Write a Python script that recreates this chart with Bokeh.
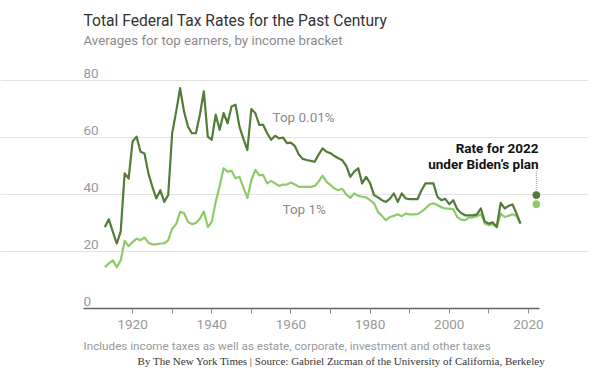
from bokeh.plotting import figure
from bokeh.models import Range1d, FixedTicker, Label, ColumnDataSource
from bokeh.embed import file_html
from bokeh.resources import INLINE

# ---------------- data ----------------
years = list(range(1913, 2019))
top_001 = [
    28.6, 31.3, 27.0, 22.8, 27.0, 47.4, 45.6, 58.6, 60.3, 55.0,   # 1913-1922
    54.4, 47.4, 42.7, 38.6, 41.5, 37.4, 39.8, 61.5, 69.0, 77.3,   # 1923-1932
    69.1, 63.8, 61.5, 61.5, 68.0, 76.2, 60.3, 59.2, 68.0, 62.7,   # 1933-1942
    68.6, 65.0, 70.9, 71.5, 63.8, 59.5, 55.6, 70.0, 68.6, 64.4,   # 1943-1952
    64.4, 61.5, 59.2, 60.6, 59.7, 60.0, 58.0, 58.2, 57.0, 54.0,   # 1953-1962
    52.5, 52.1, 51.8, 51.5, 54.0, 56.2, 55.0, 54.5, 53.5, 52.7,   # 1963-1972
    52.0, 50.0, 46.2, 48.0, 49.2, 43.9, 46.2, 44.0, 39.8, 39.0,   # 1973-1982
    38.0, 37.4, 38.5, 40.4, 37.4, 40.4, 38.6, 38.4, 38.4, 38.4,   # 1983-1992
    41.5, 43.9, 43.9, 43.9, 39.2, 38.0, 38.5, 36.6, 38.0, 34.9,   # 1993-2002
    33.5, 32.7, 32.7, 32.7, 33.0, 35.1, 30.4, 29.8, 30.2, 28.6,   # 2003-2012
    37.1, 35.1, 36.0, 36.5, 33.3, 29.8,                           # 2013-2018
]
top_1 = [
    14.5, 15.8, 16.9, 14.5, 16.9, 23.7, 21.9, 23.3, 24.5, 24.0,   # 1913-1922
    24.9, 23.1, 22.5, 22.5, 22.8, 22.9, 23.9, 28.0, 29.6, 33.9,   # 1923-1932
    33.5, 30.4, 29.6, 30.0, 31.5, 34.0, 28.6, 30.4, 37.4, 43.0,   # 1933-1942
    49.2, 48.0, 48.3, 45.7, 46.2, 42.5, 38.8, 45.0, 48.6, 46.8,   # 1943-1952
    46.8, 43.9, 44.8, 43.9, 43.0, 43.5, 43.5, 44.2, 43.5, 42.7,   # 1953-1962
    42.7, 42.7, 42.7, 43.0, 44.5, 46.6, 44.5, 43.3, 42.1, 41.5,   # 1963-1972
    42.0, 40.0, 38.8, 40.4, 39.5, 39.2, 39.0, 38.0, 36.9, 33.9,   # 1973-1982
    32.5, 31.0, 32.1, 32.5, 33.1, 32.4, 33.3, 33.0, 33.0, 33.1,   # 1983-1992
    34.0, 35.1, 36.5, 36.9, 36.3, 35.5, 35.1, 35.0, 34.9, 32.1,   # 1993-2002
    31.2, 31.0, 31.9, 32.0, 32.4, 33.1, 29.8, 29.2, 29.6, 28.6,   # 2003-2012
    33.3, 32.1, 32.5, 33.1, 32.5, 29.8,                           # 2013-2018
]
plan_year = [2022]
plan_001 = [39.8]
plan_1 = [36.6]

y_ticks = [0, 20, 40, 60, 80]
x_ticks = [1920, 1930, 1940, 1950, 1960, 1970, 1980, 1990, 2000, 2010, 2020]
x_labels = {1920: "1920", 1930: "", 1940: "1940", 1950: "", 1960: "1960",
            1970: "", 1980: "1980", 1990: "", 2000: "2000", 2010: "", 2020: "2020"}

title = "Total Federal Tax Rates for the Past Century"
subtitle = "Averages for top earners, by income bracket"
note = "Includes income taxes as well as estate, corporate, investment and other taxes"
credit = "By The New York Times | Source: Gabriel Zucman of the University of California, Berkeley"

# ---------------- style ----------------
DARK = "#527c38"
LIGHT = "#8ec96a"
SANS = "Roboto"
SERIF = "Liberation Serif"

# plotting area of the chart (picture pixels) and its data extent
X0, X1 = 1907.6, 2022.8
Y0, Y1 = 0, 80
AREA_L, AREA_W, AREA_B, AREA_H = 83, 456, 308, 228
W, H = 588, 368
OFF = 0                  # where the canvas lands in the photographed picture


def dx(px):
    return X0 + (px - AREA_L) * (X1 - X0) / AREA_W


def dy(py):
    return Y0 + (AREA_B - py) * (Y1 - Y0) / AREA_H


# the frame covers the whole canvas so that nothing is clipped
p = figure(width=W, height=H,
           x_range=Range1d(dx(OFF), dx(OFF + W)), y_range=Range1d(dy(OFF + H), dy(OFF)),
           output_backend="svg", toolbar_location=None, y_axis_location=None,
           min_border=0)
p.outline_line_color = None
p.background_fill_color = "white"
p.border_fill_color = "white"

p.xgrid.visible = False
p.ygrid.ticker = FixedTicker(ticks=[t for t in y_ticks if t > 0])
p.ygrid.bounds = (X0, X1)
p.ygrid.grid_line_color = "#e3e3e3"
p.ygrid.grid_line_width = 1

ax = p.xaxis[0]
ax.fixed_location = Y0
ax.bounds = (X0, X1)
ax.ticker = FixedTicker(ticks=x_ticks)
ax.major_label_overrides = x_labels
ax.minor_tick_line_color = None
ax.major_tick_in = 0
ax.major_tick_out = 5
ax.axis_line_color = "#666666"
ax.axis_line_width = 1.5
ax.major_tick_line_color = "#888888"
ax.major_label_text_font = SANS
ax.major_label_text_font_size = "13.5px"
ax.major_label_text_color = "#999999"
ax.major_label_standoff = 6

src = ColumnDataSource(dict(year=years, t001=top_001, t1=top_1))
p.line("year", "t1", source=src, color=LIGHT, line_width=2.2, line_join="round")
p.line("year", "t001", source=src, color=DARK, line_width=2.2, line_join="round")

p.segment(x0=plan_year, y0=[plan_001[0] + 1.8], x1=plan_year, y1=[dy(170)],
          line_color="#999999", line_width=1, line_dash="1 1")
p.scatter(plan_year, plan_001, size=7, color=DARK)
p.scatter(plan_year, plan_1, size=7, color=LIGHT)

# y tick labels sit above their gridlines
for v in y_ticks:
    p.add_layout(Label(x=X0, y=v, text=str(v), text_font=SANS, text_font_size="13.5px",
                       text_color="#999999", text_align="left", text_baseline="bottom",
                       y_offset=3))


def add_text(text, px, py, size, color, align="left", font=SANS, style="normal"):
    p.add_layout(Label(x=dx(px), y=dy(py), text=text, text_font=font,
                       text_font_size=size, text_color=color, text_align=align,
                       text_baseline="middle", text_font_style=style))


add_text(title, 83, 20, "15.6px", "#333333")
add_text(subtitle, 83, 40, "13.3px", "#8a8a8a")
add_text("Top 0.01%", 272, 116, "13.5px", "#8a8a8a")
add_text("Top 1%", 282, 208, "13.5px", "#8a8a8a")
add_text("Rate for 2022", 538, 147, "13.5px", "#121212", align="right", style="bold")
add_text("under Biden’s plan", 538, 163, "13.5px", "#121212", align="right", style="bold")
add_text(note, 83, 345, "11.7px", "#999999")
add_text(credit, 545, 360, "11px", "#333333", align="right", font=SERIF)

open("out.html", "w").write(file_html(p, INLINE))
